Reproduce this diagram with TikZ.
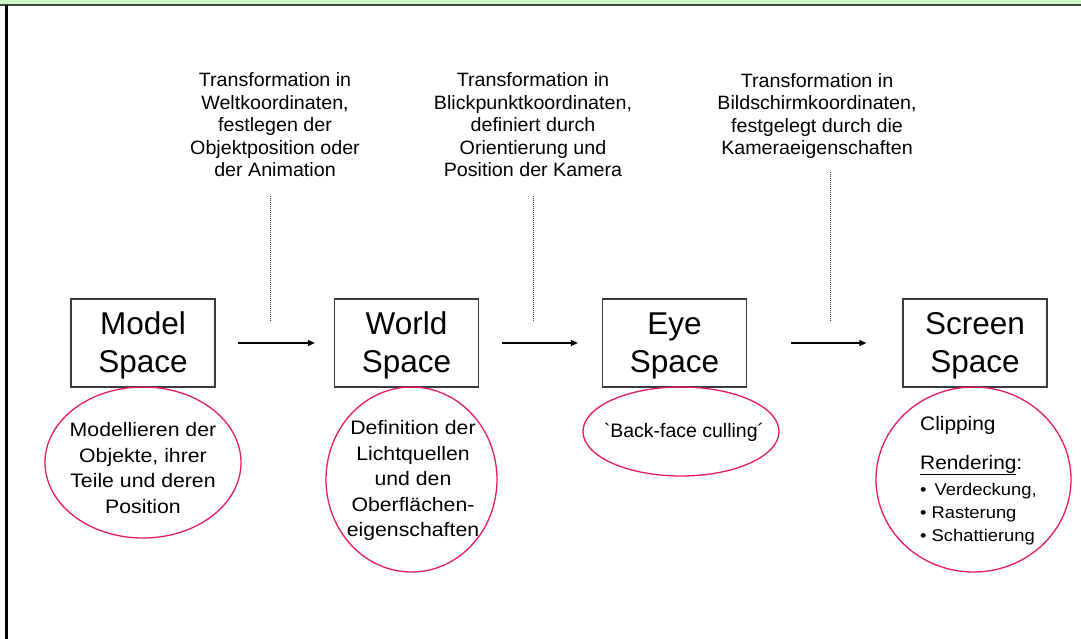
\documentclass[tikz,border=0pt]{standalone}
\usepackage{fontspec}
\setmainfont{Liberation Sans}
\newfontfamily\notefont[FakeStretch=1.02]{Liberation Sans}
\newfontfamily\ellfont[FakeStretch=1.09]{Liberation Sans}
\newfontfamily\eyefont{Liberation Sans}
\newfontfamily\scrfont[FakeStretch=1.07]{Liberation Sans}
\newfontfamily\bulfont[FakeStretch=1.08]{Liberation Sans}
\usetikzlibrary{arrows.meta,shapes.geometric}
\definecolor{bandfill}{HTML}{C8F8C4}
\definecolor{bandline}{HTML}{3E4A3E}
\definecolor{ellcol}{HTML}{E8186A}
\definecolor{boxline}{HTML}{3A3A3A}
\begin{document}
\begin{tikzpicture}[x={(1pt,0pt)},y={(0pt,-1pt)},
  spacebox/.style={draw=boxline, line width=1.3pt, minimum width=144pt, minimum height=88pt, inner sep=0pt},
  boxtext/.style={align=center, inner sep=0pt, font=\fontsize{31.5}{38}\selectfont},
  ellbox/.style={draw=ellcol, line width=1.3pt, ellipse, inner sep=0pt},
  note/.style={align=center, inner sep=0pt, font=\notefont\fontsize{19.3}{22.5}\selectfont},
  etext/.style={align=center, inner sep=0pt, font=\ellfont\fontsize{19.5}{25.5}\selectfont},
  eline/.style={anchor=base west, inner sep=0pt, font=\scrfont\fontsize{19.5}{22}\selectfont},
  bline/.style={anchor=base west, inner sep=0pt, font=\bulfont\fontsize{17}{20}\selectfont},
  flow/.style={-{Triangle[length=7pt,width=6pt]}, line width=1.1pt},
  guide/.style={dash pattern=on 1pt off 1pt, line width=0.9pt, black!75}]
\useasboundingbox (0,0) rectangle (1081,639);
% frame
\fill[bandfill] (0,0) rectangle (1081,4);
\fill[bandline] (0,4) rectangle (1081,5.8);
\fill[black] (5,5) rectangle (8,639);

% boxes
\node[spacebox] (m) at (143,343) {};
\node[spacebox] (w) at (406.5,343) {};
\node[spacebox] (e) at (674.5,343) {};
\node[spacebox] (s) at (975,343) {};
\node[boxtext] (mt) at (143,345.5) {Model\\Space};
\node[boxtext] (wt) at (406.5,345.5) {World\\Space};
\node[boxtext] (et) at (674.5,345.5) {Eye\\Space};
\node[boxtext] (st) at (975,345.5) {Screen\\Space};

% arrows
\draw[flow, shorten <=22pt, shorten >=19pt] (m) -- (w);
\draw[flow, shorten <=23pt, shorten >=24pt] (w) -- (e);
\draw[flow, shorten <=44pt, shorten >=36pt] (e) -- (s);

% notes
\node[note] (n1) at (275,125) {Transformation in\\Weltkoordinaten,\\festlegen der\\Objektposition oder\\der Animation};
\node[note] (n2) at (533,125) {Transformation in\\Blickpunktkoordinaten,\\definiert durch\\Orientierung und\\Position der Kamera};
\node[note] (n3) at (817,116) {Transformation in\\Bildschirmkoordinaten,\\festgelegt durch die\\Kameraeigenschaften};

\coordinate (g1a) at (270,196); \coordinate (g1b) at (270,322);
\coordinate (g2a) at (533,196); \coordinate (g2b) at (533,322);
\coordinate (g3a) at (830,172); \coordinate (g3b) at (830,322);
\draw[guide] (g1a) -- (g1b);
\draw[guide] (g2a) -- (g2b);
\draw[guide] (g3a) -- (g3b);

% ellipses
\node[ellbox, minimum width=196pt, minimum height=151pt] (e1) at (143,462.5) {};
\node[ellbox, minimum width=171pt, minimum height=185pt] (e2) at (411.5,479.5) {};
\node[ellbox, minimum width=196pt, minimum height=89pt] (e3) at (681,431.5) {};
\node[ellbox, minimum width=195pt, minimum height=185pt] (e4) at (973.5,479.5) {};

\node[etext] (t1) at (143,468) {Modellieren der\\Objekte, ihrer\\Teile und deren\\Position};
\node[etext] (t2) at (413,480.5) {Definition der\\Lichtquellen\\und den\\Oberflächen-\\eigenschaften};
\node[inner sep=0pt, font=\eyefont\fontsize{19.5}{22}\selectfont] (t3) at (684,432) {`Back-face culling´};

\node[eline] (t4a) at (920,430) {Clipping};
\node[eline] (t4b) at (920,469) {\underline{Rendering}:};
\node[bline] (t4c) at (920,495) {• \,Verdeckung,};
\node[bline] (t4d) at (920,518) {• Rasterung};
\node[bline] (t4e) at (920,541) {• Schattierung};
\end{tikzpicture}
\end{document}
